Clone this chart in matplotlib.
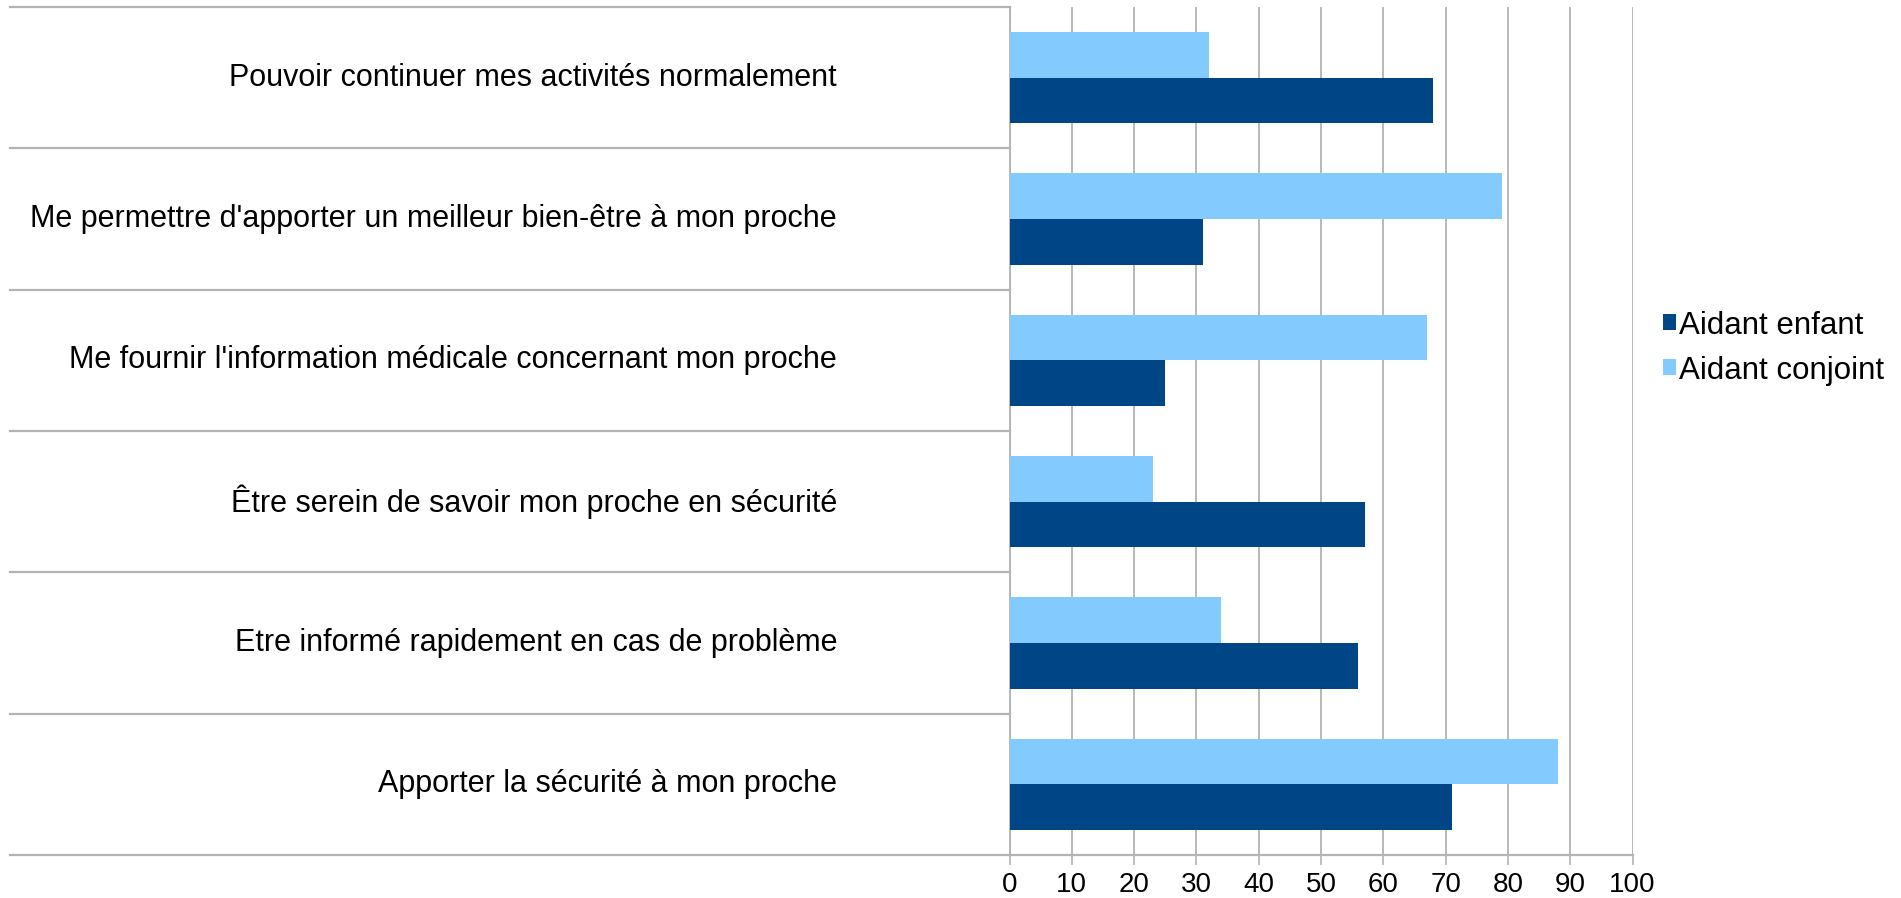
import matplotlib
matplotlib.use("Agg")
import matplotlib.pyplot as plt
from matplotlib.patches import Patch

categories = [
    "Pouvoir continuer mes activités normalement",
    "Me permettre d'apporter un meilleur bien-être à mon proche",
    "Me fournir l'information médicale concernant mon proche",
    "Être serein de savoir mon proche en sécurité",
    "Etre informé rapidement en cas de problème",
    "Apporter la sécurité à mon proche",
]
enfant = [68, 31, 25, 57, 56, 71]
conjoint = [32, 79, 67, 23, 34, 88]
xticks = [0, 10, 20, 30, 40, 50, 60, 70, 80, 90, 100]

DARK = "#004586"
LIGHT = "#83CAFF"
GRID = "#b3b3b3"

plt.rcParams["font.family"] = ["Liberation Sans", "DejaVu Sans"]

W, H = 1901, 898
fig = plt.figure(figsize=(W / 100, H / 100), dpi=100)
x0, x1 = 1009.5, 1632.5
ytop, ybot = 7, 855
ax = fig.add_axes([x0 / W, (H - ybot) / H, (x1 - x0) / W, (ybot - ytop) / H])

h = 0.323
ys = list(range(len(categories)))
ax.barh([y - h / 2 for y in ys], conjoint, height=h, color=LIGHT, zorder=3)
ax.barh([y + h / 2 for y in ys], enfant, height=h, color=DARK, zorder=3)

ax.set_xlim(0, 100)
ax.set_ylim(len(categories) - 0.5, -0.5)
ax.set_xticks(xticks)
ax.set_xticklabels([str(t) for t in xticks], fontsize=20, color="#000000")
ax.tick_params(axis="x", length=7, width=1.2, color=GRID, pad=5)
ax.set_yticks([])
ax.xaxis.grid(True, color=GRID, linewidth=1.3, zorder=0)

for s in ["top", "right"]:
    ax.spines[s].set_visible(False)
ax.spines["left"].set_color(GRID)
ax.spines["left"].set_linewidth(1.3)
ax.spines["bottom"].set_visible(False)

# category separators extended to the left
trans = ax.get_yaxis_transform()
xleft = (10 - x0) / (x1 - x0)
for b in [i - 0.5 for i in range(len(categories) + 1)]:
    ax.plot([xleft, 0], [b, b], transform=trans, color=GRID, linewidth=1.6,
            clip_on=False, zorder=2)
ax.plot([0, 1], [len(categories) - 0.5] * 2, transform=trans, color=GRID,
        linewidth=1.6, clip_on=False, zorder=4)

# category labels
xlab = (837 - x0) / (x1 - x0)
for y, c in zip(ys, categories):
    ax.text(xlab, y, c, transform=trans, ha="right", va="center",
            fontsize=22, color="#000000")

handles = [Patch(facecolor=DARK, label="Aidant enfant"),
           Patch(facecolor=LIGHT, label="Aidant conjoint")]
fig.legend(handles=handles, loc="center left",
           bbox_to_anchor=(1663 / W, 1 - 348 / H), frameon=False,
           fontsize=22.5, handlelength=0.42, handleheight=0.42,
           handletextpad=0.1, labelspacing=0.48, borderaxespad=0,
           borderpad=0)

fig.savefig("out.png", dpi=100)
